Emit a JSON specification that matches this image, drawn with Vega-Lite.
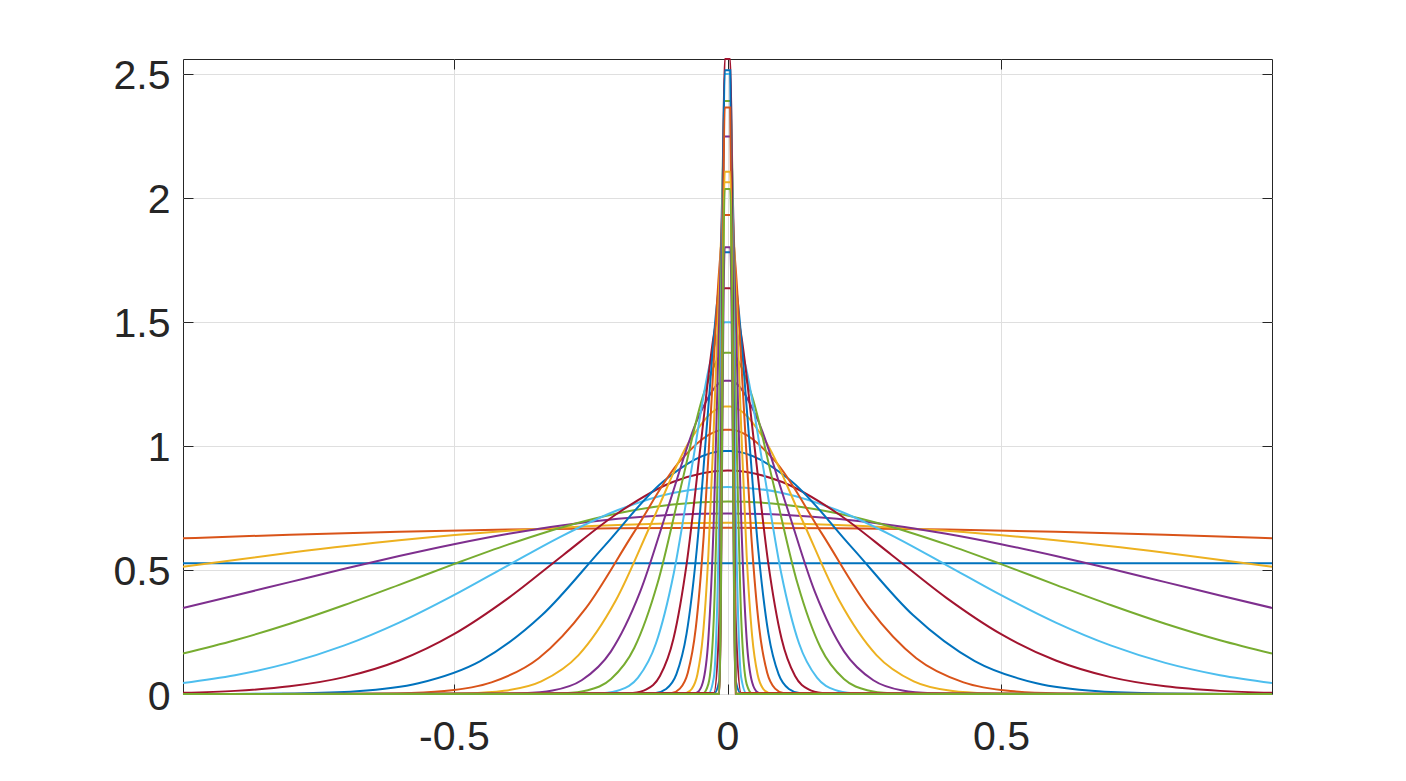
{
"$schema": "https://vega.github.io/schema/vega-lite/v6.json",
"width": 1089, "height": 635,
"autosize": {"type": "none"},
"padding": {"left": 183, "top": 59, "right": 134, "bottom": 87},
"background": "white",
"config": {
  "view": {"stroke": "#262626", "strokeWidth": 1},
  "axis": {"labelFont": "Liberation Sans", "labelFontSize": 41, "labelColor": "#262626", "tickColor": "#262626", "tickSize": -10, "tickWidth": 1, "domain": false, "gridColor": "#DFDFDF", "gridWidth": 1, "title": null}
},
"datasets": {
"curves": [
{"k":"01","x":-0.995,"y":0.527},{"k":"01","x":0.995,"y":0.527},
{"k":"02","x":-0.995,"y":0.6276},{"k":"02","x":-0.8,"y":0.6423},{"k":"02","x":-0.6,"y":0.6543},{"k":"02","x":-0.4,"y":0.6630},{"k":"02","x":-0.2,"y":0.6682},{"k":"02","x":0,"y":0.670},{"k":"02","x":0.2,"y":0.6682},{"k":"02","x":0.4,"y":0.6630},{"k":"02","x":0.6,"y":0.6543},{"k":"02","x":0.8,"y":0.6423},{"k":"02","x":0.995,"y":0.6276},
{"k":"03","x":-0.995,"y":0.5127},{"k":"03","x":-0.8,"y":0.5695},{"k":"03","x":-0.6,"y":0.6194},{"k":"03","x":-0.4,"y":0.6577},{"k":"03","x":-0.2,"y":0.6818},{"k":"03","x":0,"y":0.690},{"k":"03","x":0.2,"y":0.6818},{"k":"03","x":0.4,"y":0.6577},{"k":"03","x":0.6,"y":0.6194},{"k":"03","x":0.8,"y":0.5695},{"k":"03","x":0.995,"y":0.5127},
{"k":"04","x":-0.995,"y":0.3471},{"k":"04","x":-0.9,"y":0.3972},{"k":"04","x":-0.8,"y":0.4511},{"k":"04","x":-0.7,"y":0.5046},{"k":"04","x":-0.6,"y":0.5561},{"k":"04","x":-0.5,"y":0.6038},{"k":"04","x":-0.4,"y":0.6459},{"k":"04","x":-0.3,"y":0.6806},{"k":"04","x":-0.2,"y":0.7065},{"k":"04","x":-0.1,"y":0.7226},{"k":"04","x":0,"y":0.728},{"k":"04","x":0.1,"y":0.7226},{"k":"04","x":0.2,"y":0.7065},{"k":"04","x":0.3,"y":0.6806},{"k":"04","x":0.4,"y":0.6459},{"k":"04","x":0.5,"y":0.6038},{"k":"04","x":0.6,"y":0.5561},{"k":"04","x":0.7,"y":0.5046},{"k":"04","x":0.8,"y":0.4511},{"k":"04","x":0.9,"y":0.3972},{"k":"04","x":0.995,"y":0.3471},
{"k":"05","x":-0.995,"y":0.1632},{"k":"05","x":-0.9,"y":0.2167},{"k":"05","x":-0.8,"y":0.2832},{"k":"05","x":-0.7,"y":0.3587},{"k":"05","x":-0.6,"y":0.4401},{"k":"05","x":-0.5,"y":0.5235},{"k":"05","x":-0.4,"y":0.6031},{"k":"05","x":-0.3,"y":0.6734},{"k":"05","x":-0.2,"y":0.7286},{"k":"05","x":-0.1,"y":0.7639},{"k":"05","x":0,"y":0.776},{"k":"05","x":0.1,"y":0.7639},{"k":"05","x":0.2,"y":0.7286},{"k":"05","x":0.3,"y":0.6734},{"k":"05","x":0.4,"y":0.6031},{"k":"05","x":0.5,"y":0.5235},{"k":"05","x":0.6,"y":0.4401},{"k":"05","x":0.7,"y":0.3587},{"k":"05","x":0.8,"y":0.2832},{"k":"05","x":0.9,"y":0.2167},{"k":"05","x":0.995,"y":0.1632},
{"k":"06","x":-0.995,"y":0.0446},{"k":"06","x":-0.9,"y":0.0759},{"k":"06","x":-0.8,"y":0.1256},{"k":"06","x":-0.7,"y":0.1958},{"k":"06","x":-0.6,"y":0.2877},{"k":"06","x":-0.5,"y":0.3984},{"k":"06","x":-0.4,"y":0.5200},{"k":"06","x":-0.3,"y":0.6397},{"k":"06","x":-0.2,"y":0.7418},{"k":"06","x":-0.1,"y":0.8106},{"k":"06","x":0,"y":0.835},{"k":"06","x":0.1,"y":0.8106},{"k":"06","x":0.2,"y":0.7418},{"k":"06","x":0.3,"y":0.6397},{"k":"06","x":0.4,"y":0.5200},{"k":"06","x":0.5,"y":0.3984},{"k":"06","x":0.6,"y":0.2877},{"k":"06","x":0.7,"y":0.1958},{"k":"06","x":0.8,"y":0.1256},{"k":"06","x":0.9,"y":0.0759},{"k":"06","x":0.995,"y":0.0446},
{"k":"07","x":-0.995,"y":0.0049},{"k":"07","x":-0.9,"y":0.0126},{"k":"07","x":-0.8,"y":0.0309},{"k":"07","x":-0.7,"y":0.0681},{"k":"07","x":-0.6,"y":0.1351},{"k":"07","x":-0.5,"y":0.2413},{"k":"07","x":-0.4,"y":0.3877},{"k":"07","x":-0.3,"y":0.5607},{"k":"07","x":-0.2,"y":0.7298},{"k":"07","x":-0.1,"y":0.8547},{"k":"07","x":0,"y":0.901},{"k":"07","x":0.1,"y":0.8547},{"k":"07","x":0.2,"y":0.7298},{"k":"07","x":0.3,"y":0.5607},{"k":"07","x":0.4,"y":0.3877},{"k":"07","x":0.5,"y":0.2413},{"k":"07","x":0.6,"y":0.1351},{"k":"07","x":0.7,"y":0.0681},{"k":"07","x":0.8,"y":0.0309},{"k":"07","x":0.9,"y":0.0126},{"k":"07","x":0.995,"y":0.0049},
{"k":"08","x":-0.995,"y":0},{"k":"08","x":-0.9036,"y":0.0003},{"k":"08","x":-0.7907,"y":0.0021},{"k":"08","x":-0.6777,"y":0.0109},{"k":"08","x":-0.5648,"y":0.0431},{"k":"08","x":-0.4518,"y":0.1326},{"k":"08","x":-0.3389,"y":0.3182},{"k":"08","x":-0.2259,"y":0.5944},{"k":"08","x":-0.113,"y":0.8649},{"k":"08","x":-0.005,"y":0.9798},{"k":"08","x":0.005,"y":0.9798},{"k":"08","x":0.113,"y":0.8649},{"k":"08","x":0.2259,"y":0.5944},{"k":"08","x":0.3389,"y":0.3182},{"k":"08","x":0.4518,"y":0.1326},{"k":"08","x":0.5648,"y":0.0431},{"k":"08","x":0.6777,"y":0.0109},{"k":"08","x":0.7907,"y":0.0021},{"k":"08","x":0.9036,"y":0.0003},{"k":"08","x":0.995,"y":0},
{"k":"09","x":-0.995,"y":0},{"k":"09","x":-0.69,"y":0.0004},{"k":"09","x":-0.6038,"y":0.0023},{"k":"09","x":-0.5175,"y":0.0118},{"k":"09","x":-0.4313,"y":0.0468},{"k":"09","x":-0.345,"y":0.1442},{"k":"09","x":-0.2588,"y":0.3461},{"k":"09","x":-0.1725,"y":0.6465},{"k":"09","x":-0.0863,"y":0.9407},{"k":"09","x":-0.005,"y":1.0656},{"k":"09","x":0.005,"y":1.0656},{"k":"09","x":0.0863,"y":0.9407},{"k":"09","x":0.1725,"y":0.6465},{"k":"09","x":0.2588,"y":0.3461},{"k":"09","x":0.345,"y":0.1442},{"k":"09","x":0.4313,"y":0.0468},{"k":"09","x":0.5175,"y":0.0118},{"k":"09","x":0.6038,"y":0.0023},{"k":"09","x":0.69,"y":0.0004},{"k":"09","x":0.995,"y":0},
{"k":"10","x":-0.995,"y":0},{"k":"10","x":-0.5444,"y":0.0004},{"k":"10","x":-0.4764,"y":0.0025},{"k":"10","x":-0.4083,"y":0.0129},{"k":"10","x":-0.3403,"y":0.051},{"k":"10","x":-0.2722,"y":0.1569},{"k":"10","x":-0.2042,"y":0.3767},{"k":"10","x":-0.1361,"y":0.7035},{"k":"10","x":-0.0681,"y":1.0237},{"k":"10","x":-0.005,"y":1.1592},{"k":"10","x":0.005,"y":1.1592},{"k":"10","x":0.0681,"y":1.0237},{"k":"10","x":0.1361,"y":0.7035},{"k":"10","x":0.2042,"y":0.3767},{"k":"10","x":0.2722,"y":0.1569},{"k":"10","x":0.3403,"y":0.051},{"k":"10","x":0.4083,"y":0.0129},{"k":"10","x":0.4764,"y":0.0025},{"k":"10","x":0.5444,"y":0.0004},{"k":"10","x":0.995,"y":0},
{"k":"11","x":-0.995,"y":0},{"k":"11","x":-0.4264,"y":0.0004},{"k":"11","x":-0.3731,"y":0.0028},{"k":"11","x":-0.3198,"y":0.014},{"k":"11","x":-0.2665,"y":0.0555},{"k":"11","x":-0.2132,"y":0.171},{"k":"11","x":-0.1599,"y":0.4104},{"k":"11","x":-0.1066,"y":0.7666},{"k":"11","x":-0.0533,"y":1.1155},{"k":"11","x":-0.005,"y":1.2626},{"k":"11","x":0.005,"y":1.2626},{"k":"11","x":0.0533,"y":1.1155},{"k":"11","x":0.1066,"y":0.7666},{"k":"11","x":0.1599,"y":0.4104},{"k":"11","x":0.2132,"y":0.171},{"k":"11","x":0.2665,"y":0.0555},{"k":"11","x":0.3198,"y":0.014},{"k":"11","x":0.3731,"y":0.0028},{"k":"11","x":0.4264,"y":0.0004},{"k":"11","x":0.995,"y":0},
{"k":"12","x":-0.995,"y":0},{"k":"12","x":-0.3404,"y":0.0005},{"k":"12","x":-0.2979,"y":0.003},{"k":"12","x":-0.2553,"y":0.0153},{"k":"12","x":-0.2128,"y":0.0605},{"k":"12","x":-0.1702,"y":0.1864},{"k":"12","x":-0.1277,"y":0.4474},{"k":"12","x":-0.0851,"y":0.8358},{"k":"12","x":-0.0426,"y":1.2161},{"k":"12","x":-0.005,"y":1.3756},{"k":"12","x":0.005,"y":1.3756},{"k":"12","x":0.0426,"y":1.2161},{"k":"12","x":0.0851,"y":0.8358},{"k":"12","x":0.1277,"y":0.4474},{"k":"12","x":0.1702,"y":0.1864},{"k":"12","x":0.2128,"y":0.0605},{"k":"12","x":0.2553,"y":0.0153},{"k":"12","x":0.2979,"y":0.003},{"k":"12","x":0.3404,"y":0.0005},{"k":"12","x":0.995,"y":0},
{"k":"13","x":-0.995,"y":0},{"k":"13","x":-0.2616,"y":0.0005},{"k":"13","x":-0.2289,"y":0.0033},{"k":"13","x":-0.1962,"y":0.0167},{"k":"13","x":-0.1635,"y":0.066},{"k":"13","x":-0.1308,"y":0.2034},{"k":"13","x":-0.0981,"y":0.488},{"k":"13","x":-0.0654,"y":0.9116},{"k":"13","x":-0.0327,"y":1.3264},{"k":"13","x":-0.005,"y":1.4986},{"k":"13","x":0.005,"y":1.4986},{"k":"13","x":0.0327,"y":1.3264},{"k":"13","x":0.0654,"y":0.9116},{"k":"13","x":0.0981,"y":0.488},{"k":"13","x":0.1308,"y":0.2034},{"k":"13","x":0.1635,"y":0.066},{"k":"13","x":0.1962,"y":0.0167},{"k":"13","x":0.2289,"y":0.0033},{"k":"13","x":0.2616,"y":0.0005},{"k":"13","x":0.995,"y":0},
{"k":"14","x":-0.995,"y":0},{"k":"14","x":-0.1976,"y":0.0006},{"k":"14","x":-0.1729,"y":0.0036},{"k":"14","x":-0.1482,"y":0.0183},{"k":"14","x":-0.1235,"y":0.0723},{"k":"14","x":-0.0988,"y":0.2225},{"k":"14","x":-0.0741,"y":0.5339},{"k":"14","x":-0.0494,"y":0.9973},{"k":"14","x":-0.0247,"y":1.4512},{"k":"14","x":-0.005,"y":1.636},{"k":"14","x":0.005,"y":1.636},{"k":"14","x":0.0247,"y":1.4512},{"k":"14","x":0.0494,"y":0.9973},{"k":"14","x":0.0741,"y":0.5339},{"k":"14","x":0.0988,"y":0.2225},{"k":"14","x":0.1235,"y":0.0723},{"k":"14","x":0.1482,"y":0.0183},{"k":"14","x":0.1729,"y":0.0036},{"k":"14","x":0.1976,"y":0.0006},{"k":"14","x":0.995,"y":0},
{"k":"15","x":-0.995,"y":0},{"k":"15","x":-0.1496,"y":0.0006},{"k":"15","x":-0.1309,"y":0.0039},{"k":"15","x":-0.1122,"y":0.02},{"k":"15","x":-0.0935,"y":0.079},{"k":"15","x":-0.0748,"y":0.2431},{"k":"15","x":-0.0561,"y":0.5835},{"k":"15","x":-0.0374,"y":1.0899},{"k":"15","x":-0.0187,"y":1.5859},{"k":"15","x":-0.005,"y":1.781},{"k":"15","x":0.005,"y":1.781},{"k":"15","x":0.0187,"y":1.5859},{"k":"15","x":0.0374,"y":1.0899},{"k":"15","x":0.0561,"y":0.5835},{"k":"15","x":0.0748,"y":0.2431},{"k":"15","x":0.0935,"y":0.079},{"k":"15","x":0.1122,"y":0.02},{"k":"15","x":0.1309,"y":0.0039},{"k":"15","x":0.1496,"y":0.0006},{"k":"15","x":0.995,"y":0},
{"k":"16","x":-0.995,"y":0},{"k":"16","x":-0.116,"y":0.0007},{"k":"16","x":-0.1015,"y":0.0043},{"k":"16","x":-0.087,"y":0.0218},{"k":"16","x":-0.0725,"y":0.0861},{"k":"16","x":-0.058,"y":0.2652},{"k":"16","x":-0.0435,"y":0.6364},{"k":"16","x":-0.029,"y":1.1887},{"k":"16","x":-0.0145,"y":1.7297},{"k":"16","x":-0.005,"y":1.931},{"k":"16","x":0.005,"y":1.931},{"k":"16","x":0.0145,"y":1.7297},{"k":"16","x":0.029,"y":1.1887},{"k":"16","x":0.0435,"y":0.6364},{"k":"16","x":0.058,"y":0.2652},{"k":"16","x":0.0725,"y":0.0861},{"k":"16","x":0.087,"y":0.0218},{"k":"16","x":0.1015,"y":0.0043},{"k":"16","x":0.116,"y":0.0007},{"k":"16","x":0.995,"y":0},
{"k":"17","x":-0.995,"y":0},{"k":"17","x":-0.085,"y":0.0008},{"k":"17","x":-0.075,"y":0.0047},{"k":"17","x":-0.065,"y":0.0214},{"k":"17","x":-0.055,"y":0.0789},{"k":"17","x":-0.045,"y":0.2341},{"k":"17","x":-0.035,"y":0.5592},{"k":"17","x":-0.025,"y":1.074},{"k":"17","x":-0.015,"y":1.6596},{"k":"17","x":-0.005,"y":2.0631},{"k":"17","x":0.005,"y":2.0631},{"k":"17","x":0.015,"y":1.6596},{"k":"17","x":0.025,"y":1.074},{"k":"17","x":0.035,"y":0.5592},{"k":"17","x":0.045,"y":0.2341},{"k":"17","x":0.055,"y":0.0789},{"k":"17","x":0.065,"y":0.0214},{"k":"17","x":0.075,"y":0.0047},{"k":"17","x":0.085,"y":0.0008},{"k":"17","x":0.995,"y":0},
{"k":"18","x":-0.995,"y":0},{"k":"18","x":-0.065,"y":0.0007},{"k":"18","x":-0.055,"y":0.0068},{"k":"18","x":-0.045,"y":0.0472},{"k":"18","x":-0.035,"y":0.2213},{"k":"18","x":-0.025,"y":0.7053},{"k":"18","x":-0.015,"y":1.5275},{"k":"18","x":-0.005,"y":2.248},{"k":"18","x":0.005,"y":2.248},{"k":"18","x":0.015,"y":1.5275},{"k":"18","x":0.025,"y":0.7053},{"k":"18","x":0.035,"y":0.2213},{"k":"18","x":0.045,"y":0.0472},{"k":"18","x":0.055,"y":0.0068},{"k":"18","x":0.065,"y":0.0007},{"k":"18","x":0.995,"y":0},
{"k":"19","x":-0.995,"y":0},{"k":"19","x":-0.045,"y":0.0026},{"k":"19","x":-0.035,"y":0.0397},{"k":"19","x":-0.025,"y":0.3081},{"k":"19","x":-0.015,"y":1.2077},{"k":"19","x":-0.005,"y":2.391},{"k":"19","x":0.005,"y":2.391},{"k":"19","x":0.015,"y":1.2077},{"k":"19","x":0.025,"y":0.3081},{"k":"19","x":0.035,"y":0.0397},{"k":"19","x":0.045,"y":0.0026},{"k":"19","x":0.995,"y":0},
{"k":"20","x":-0.995,"y":0},{"k":"20","x":-0.035,"y":0.0018},{"k":"20","x":-0.025,"y":0.0668},{"k":"20","x":-0.015,"y":0.7473},{"k":"20","x":-0.005,"y":2.5},{"k":"20","x":0.005,"y":2.5},{"k":"20","x":0.015,"y":0.7473},{"k":"20","x":0.025,"y":0.0668},{"k":"20","x":0.035,"y":0.0018},{"k":"20","x":0.995,"y":0},
{"k":"21","x":-0.995,"y":0},{"k":"21","x":-0.025,"y":0.0039},{"k":"21","x":-0.015,"y":0.2945},{"k":"21","x":-0.005,"y":2.56},{"k":"21","x":0.005,"y":2.56},{"k":"21","x":0.015,"y":0.2945},{"k":"21","x":0.025,"y":0.0039},{"k":"21","x":0.995,"y":0},
{"k":"22","x":-0.995,"y":0},{"k":"22","x":-0.025,"y":0},{"k":"22","x":-0.015,"y":0.0538},{"k":"22","x":-0.005,"y":2.515},{"k":"22","x":0.005,"y":2.515},{"k":"22","x":0.015,"y":0.0538},{"k":"22","x":0.025,"y":0},{"k":"22","x":0.995,"y":0},
{"k":"23","x":-0.995,"y":0},{"k":"23","x":-0.015,"y":0.0023},{"k":"23","x":-0.005,"y":2.364},{"k":"23","x":0.005,"y":2.364},{"k":"23","x":0.015,"y":0.0023},{"k":"23","x":0.995,"y":0},
{"k":"24","x":-0.995,"y":0},{"k":"24","x":-0.015,"y":0},{"k":"24","x":-0.005,"y":2.105},{"k":"24","x":0.005,"y":2.105},{"k":"24","x":0.015,"y":0},{"k":"24","x":0.995,"y":0},
{"k":"25","x":-0.995,"y":0},{"k":"25","x":-0.015,"y":0},{"k":"25","x":-0.005,"y":1.801},{"k":"25","x":0.005,"y":1.801},{"k":"25","x":0.015,"y":0},{"k":"25","x":0.995,"y":0},
{"k":"26","x":-0.995,"y":0},{"k":"26","x":-0.015,"y":0},{"k":"26","x":-0.005,"y":2.036},{"k":"26","x":0.005,"y":2.036},{"k":"26","x":0.015,"y":0},{"k":"26","x":0.995,"y":0}
],
"anchor": [{"x": 0, "y": 0}]
},
"layer": [
{
  "data": {"name": "curves"},
  "mark": {"type": "line", "interpolate": "monotone", "strokeWidth": 2},
  "encoding": {
    "x": {"field": "x", "type": "quantitative", "scale": {"domain": [-0.995, 0.995], "nice": false, "zero": false},
      "axis": {"orient": "bottom", "values": [-0.5, 0, 0.5], "grid": true, "labelPadding": 33, "labelExpr": "datum.value < 0 ? '-' + format(-datum.value, '~g') : format(datum.value, '~g')"}},
    "y": {"field": "y", "type": "quantitative", "scale": {"domain": [0, 2.56], "nice": false, "zero": false},
      "axis": {"orient": "left", "values": [0, 0.5, 1, 1.5, 2, 2.5], "grid": true, "labelPadding": 23, "labelOffset": 3, "format": "~g"}},
    "color": {"field": "k", "type": "nominal", "legend": null,
      "scale": {"domain": ["01","02","03","04","05","06","07","08","09","10","11","12","13","14","15","16","17","18","19","20","21","22","23","24","25","26"],
        "range": ["#0072BD","#D95319","#EDB120","#7E2F8E","#77AC30","#4DBEEE","#A2142F","#0072BD","#D95319","#EDB120","#7E2F8E","#77AC30","#4DBEEE","#A2142F","#0072BD","#D95319","#EDB120","#7E2F8E","#77AC30","#4DBEEE","#A2142F","#0072BD","#D95319","#EDB120","#7E2F8E","#77AC30"]}}
  }
},
{
  "data": {"name": "anchor"},
  "mark": {"type": "point", "opacity": 0},
  "encoding": {
    "x": {"field": "x", "type": "quantitative", "scale": {"domain": [-0.995, 0.995], "nice": false, "zero": false},
      "axis": {"orient": "top", "values": [-0.5, 0, 0.5], "grid": false, "labels": false}},
    "y": {"field": "y", "type": "quantitative", "scale": {"domain": [0, 2.56], "nice": false, "zero": false},
      "axis": {"orient": "right", "values": [0, 0.5, 1, 1.5, 2, 2.5], "grid": false, "labels": false}}
  }
}
],
"resolve": {"axis": {"x": "independent", "y": "independent"}}
}
